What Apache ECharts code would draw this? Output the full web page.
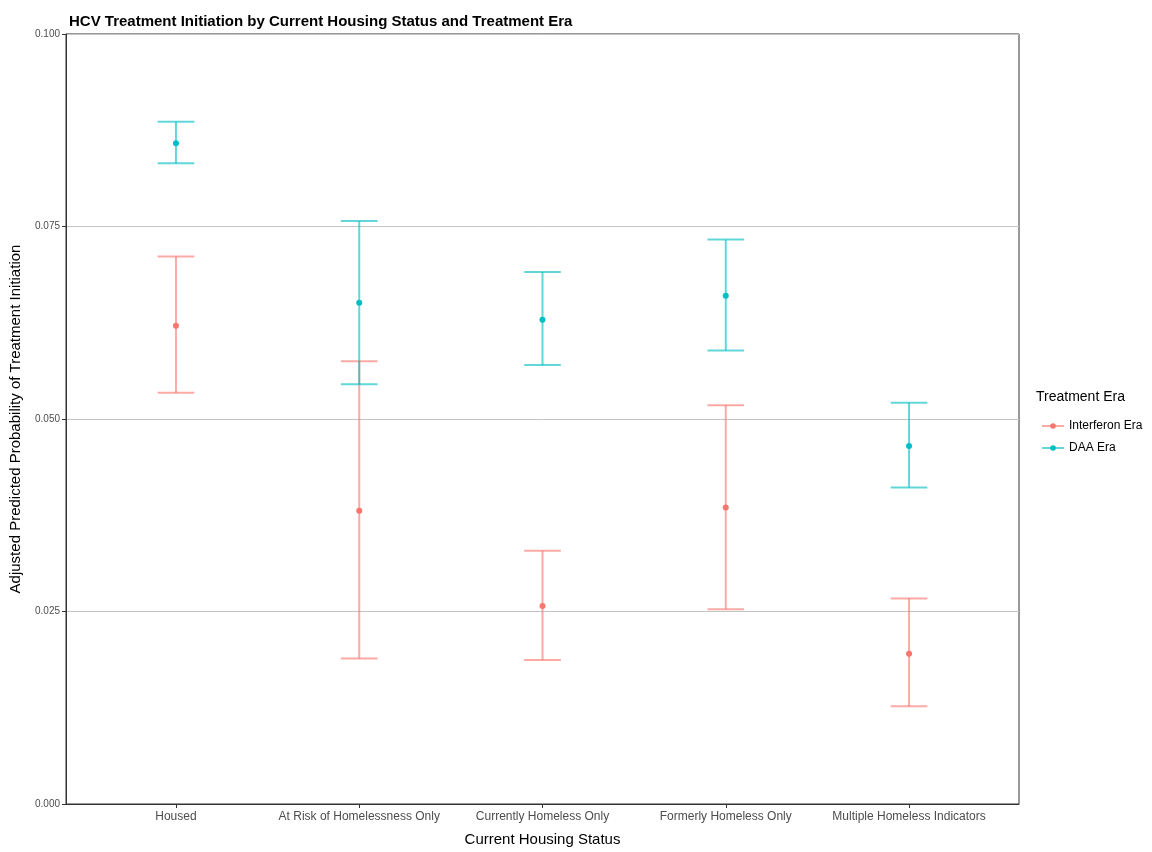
<!DOCTYPE html>
<html>
<head>
<meta charset="utf-8">
<script src="https://cdn.jsdelivr.net/npm/echarts@6/dist/echarts.min.js"></script>
<style>html,body{margin:0;padding:0;background:#fff}#c{width:1152px;height:852px}</style>
</head>
<body>
<div id="c"></div>
<script>
const categories = ['Housed', 'At Risk of Homelessness Only', 'Currently Homeless Only', 'Formerly Homeless Only', 'Multiple Homeless Indicators'];
const yTicks = [0, 0.025, 0.05, 0.075, 0.1];
const ifnEst  = [0.0621, 0.0381, 0.0257, 0.0385, 0.0195];
const ifnLow  = [0.0534, 0.0189, 0.0187, 0.0253, 0.0127];
const ifnHigh = [0.0711, 0.0575, 0.0329, 0.0518, 0.0267];
const daaEst  = [0.0858, 0.0651, 0.0629, 0.0660, 0.0465];
const daaLow  = [0.0832, 0.0545, 0.0570, 0.0589, 0.0411];
const daaHigh = [0.0886, 0.0757, 0.0691, 0.0733, 0.0521];

const IFN = '#F8766D', DAA = '#00BFC4';
const FONT = '"Liberation Sans", Arial, sans-serif';

function errData(lo, hi) { return categories.map((c, i) => [i, lo[i], hi[i]]); }
function ptData(est) { return categories.map((c, i) => [i, est[i]]); }

function errRender(color) {
  return function (params, api) {
    const x = api.value(0);
    const pLo = api.coord([x, api.value(1)]);
    const pHi = api.coord([x, api.value(2)]);
    const hw = api.size([0.1, 0])[0];
    const style = { stroke: color, lineWidth: 2, opacity: 0.62 };
    return {
      type: 'group',
      children: [
        { type: 'line', shape: { x1: pLo[0], y1: pLo[1], x2: pHi[0], y2: pHi[1] }, style },
        { type: 'line', shape: { x1: pHi[0] - hw, y1: pHi[1], x2: pHi[0] + hw, y2: pHi[1] }, style },
        { type: 'line', shape: { x1: pLo[0] - hw, y1: pLo[1], x2: pLo[0] + hw, y2: pLo[1] }, style }
      ]
    };
  };
}

const chart = echarts.init(document.getElementById('c'), null, { renderer: 'canvas' });
chart.setOption({
  animation: false,
  backgroundColor: '#fff',
  textStyle: { fontFamily: FONT },
  title: [
    { text: 'HCV Treatment Initiation by Current Housing Status and Treatment Era', left: 64, top: 9,
      textStyle: { fontFamily: FONT, fontSize: 15, fontWeight: 'bold', color: '#000' } },
    { text: 'Treatment Era', left: 1031, top: 385,
      textStyle: { fontFamily: FONT, fontSize: 14, fontWeight: 'normal', color: '#000' } }
  ],
  legend: {
    orient: 'vertical', left: 1036, top: 415, itemWidth: 22, itemHeight: 7, itemGap: 10,
    data: ['Interferon Era', 'DAA Era'],
    textStyle: { fontFamily: FONT, fontSize: 12, color: '#000' },
    lineStyle: { width: 2, opacity: 0.62 },
    selectedMode: false
  },
  grid: { left: 65, right: 133, top: 34, bottom: 44, show: true, borderColor: '#333', borderWidth: 1, backgroundColor: 'transparent' },
  xAxis: {
    type: 'value', min: -0.6, max: 4.6,
    name: 'Current Housing Status', nameLocation: 'middle', nameGap: 28,
    nameTextStyle: { fontFamily: FONT, fontSize: 15, color: '#000' },
    axisLine: { show: true, onZero: false, lineStyle: { color: '#333', width: 1 } },
    axisTick: { show: true, length: 4, lineStyle: { color: '#333' }, customValues: [0, 1, 2, 3, 4] },
    axisLabel: { customValues: [0, 1, 2, 3, 4], formatter: v => categories[Math.round(v)], fontSize: 12, color: '#4d4d4d', margin: 7 },
    splitLine: { show: false }
  },
  yAxis: {
    type: 'value', min: 0, max: 0.1, interval: 0.025,
    name: 'Adjusted Predicted Probability of Treatment Initiation', nameLocation: 'middle', nameGap: 43,
    nameTextStyle: { fontFamily: FONT, fontSize: 15, color: '#000' },
    axisLine: { show: true, onZero: false, lineStyle: { color: '#333', width: 1 } },
    axisTick: { show: true, length: 4, lineStyle: { color: '#333' } },
    axisLabel: { formatter: v => v.toFixed(3), fontSize: 10, color: '#4d4d4d', margin: 6 },
    splitLine: { show: true, lineStyle: { color: '#c4c4c4', width: 1 } }
  },
  series: [
    { name: 'IFN-err', type: 'custom', renderItem: errRender(IFN), data: errData(ifnLow, ifnHigh), encode: { x: 0, y: [1, 2] }, silent: true, z: 2 },
    { name: 'DAA-err', type: 'custom', renderItem: errRender(DAA), data: errData(daaLow, daaHigh), encode: { x: 0, y: [1, 2] }, silent: true, z: 2 },
    { name: 'Interferon Era', type: 'line', data: ptData(ifnEst), symbol: 'circle', symbolSize: 6, showSymbol: true,
      itemStyle: { color: IFN }, lineStyle: { opacity: 0 }, z: 3, silent: true },
    { name: 'DAA Era', type: 'line', data: ptData(daaEst), symbol: 'circle', symbolSize: 6, showSymbol: true,
      itemStyle: { color: DAA }, lineStyle: { opacity: 0 }, z: 3, silent: true }
  ]
});
</script>
</body>
</html>
